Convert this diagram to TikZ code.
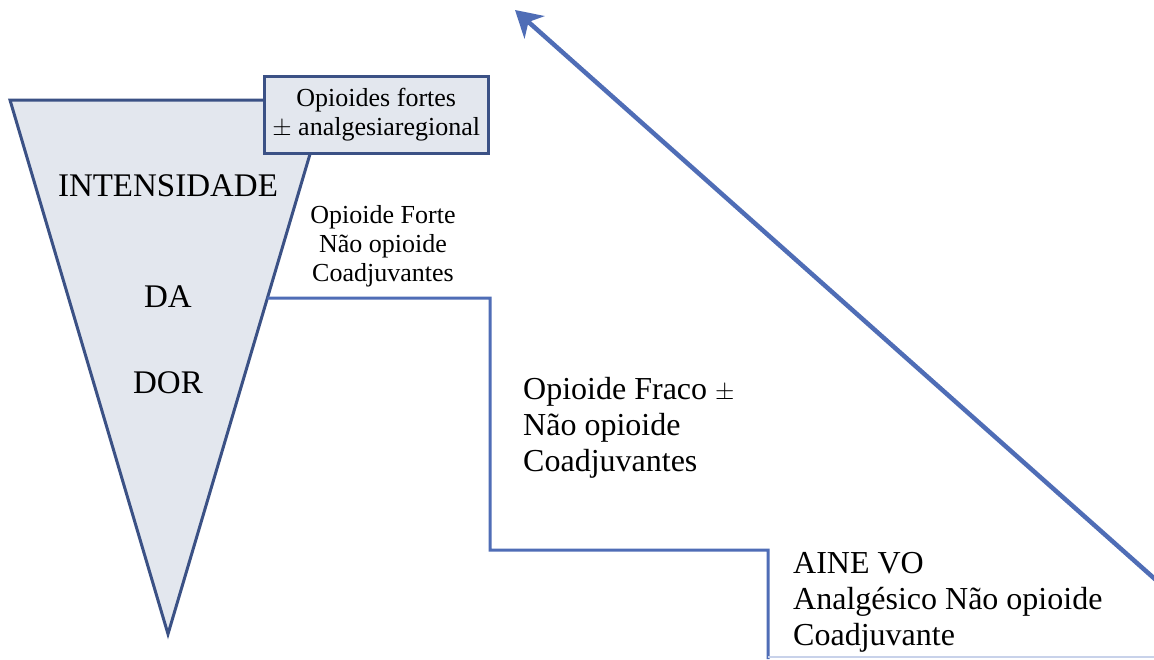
\documentclass[tikz,border=0pt]{standalone}
\usepackage{fontspec}
\setmainfont{Liberation Serif}
\usetikzlibrary{arrows.meta,calc}
\definecolor{darkb}{HTML}{3B5185}
\definecolor{midb}{HTML}{4F6DB6}
\definecolor{fillb}{HTML}{E3E7EE}
\definecolor{faintb}{HTML}{C8D2EA}
\tikzset{
  tri/.style={draw=darkb, line width=3pt, fill=fillb, line join=miter},
  boxsty/.style={draw=darkb, line width=2.5pt, fill=fillb, inner sep=0pt, align=center,
     font=\fontsize{26}{29}\selectfont},
  bigtxt/.style={inner sep=0pt, font=\fontsize{33}{37}\selectfont},
  midtxt/.style={inner sep=0pt, align=center, font=\fontsize{26}{29}\selectfont},
  lefttxt/.style={inner sep=0pt, align=left, font=\fontsize{32}{36}\selectfont},
  stair/.style={draw=midb, line width=3pt},
  bigarrow/.style={draw=midb, line width=4.5pt, -{Stealth[length=26pt,width=30pt,inset=8pt]}}
}
\begin{document}
\begin{tikzpicture}[x=1pt,y=-1pt]
\useasboundingbox[fill=white] (0,0) rectangle (1154,659);
% inverted triangle
\coordinate (tl) at (10,100);
\coordinate (tr) at (326,100);
\coordinate (ap) at (168,634);
\draw[tri] (tl) -- (tr) -- (ap) -- cycle;
% box on top
\node[boxsty, minimum width=224pt, minimum height=77pt, anchor=north west] (box) at (263,75)
  {Opioides fortes\\$\pm$ analgesiaregional};
% labels in triangle
\node[bigtxt, anchor=base] (int) at (168,196) {INTENSIDADE};
\node[bigtxt, anchor=base] (da) at (168,307) {DA};
\node[bigtxt, anchor=base] (dor) at (168,393) {DOR};
% staircase
\coordinate (st) at ($(tr)!0.3708!(ap)$);
\coordinate (s1) at (490,298);
\coordinate (s2) at (490,550);
\coordinate (s3) at (768,550);
\coordinate (s4) at (768,659);
\draw[stair] (st) -- (s1) -- (s2) -- (s3) -- (s4);
\coordinate (b1) at (768,657);
\coordinate (b2) at (1154,657);
\draw[faintb, line width=1.5pt] (b1) -- (b2);
% step texts
\node[midtxt] (step3) at (383,246) {Opioide Forte\\N\~ao opioide\\Coadjuvantes};
\node[lefttxt, anchor=west] (step2) at (523,428) {Opioide Fraco $\pm$\\N\~ao opioide\\Coadjuvantes};
\node[lefttxt, anchor=west] (step1) at (793,602) {AINE VO\\Analg\'esico N\~ao opioide\\Coadjuvante};
% arrow
\coordinate (aS) at (1156,580);
\coordinate (aE) at (515,10);
\draw[bigarrow] (aS) -- (aE);
\end{tikzpicture}
\end{document}
